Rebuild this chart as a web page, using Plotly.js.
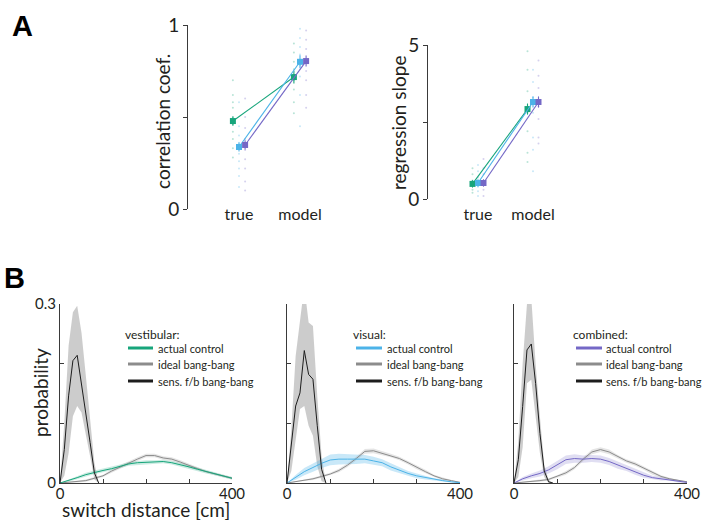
<!DOCTYPE html>
<html><head><meta charset="utf-8">
<script src="https://cdn.plot.ly/plotly-3.0.1.min.js"></script>
<style>html,body{margin:0;padding:0;background:#fff;overflow:hidden}</style>
</head><body><div id="chart" style="width:703px;height:520px"></div>
<script>
// ---------- Panel A data ----------
const groupLabels = ["true", "model"];
const groupPos = [1, 2];
const condNames = ["vestibular", "visual", "combined"];
const axisTitlesA = ["correlation coef.", "regression slope"];
// correlation coefficient (mean, sem) for true / model
const corrVestibular = [0.478, 0.717];
const corrVisual = [0.337, 0.800];
const corrCombined = [0.348, 0.804];
const corrErrVestibular = [0.025, 0.035];
const corrErrVisual = [0.025, 0.035];
const corrErrCombined = [0.025, 0.03];
// individual subjects (correlation)
const corrDotsVestTrue = [0.70, 0.62, 0.58, 0.55, 0.50, 0.46, 0.42, 0.38, 0.33, 0.28];
const corrDotsVisTrue = [0.58, 0.45, 0.40, 0.36, 0.30, 0.26, 0.22, 0.18, 0.12];
const corrDotsCombTrue = [0.60, 0.50, 0.44, 0.38, 0.32, 0.27, 0.22, 0.15, 0.10];
const corrDotsVestModel = [0.90, 0.85, 0.80, 0.76, 0.70, 0.65, 0.58, 0.52];
const corrDotsVisModel = [0.98, 0.93, 0.88, 0.84, 0.78, 0.72, 0.62, 0.45];
const corrDotsCombModel = [0.97, 0.92, 0.87, 0.80, 0.75, 0.70, 0.62, 0.55];
// regression slope
const slopeVestibular = [0.49, 2.92];
const slopeVisual = [0.52, 3.15];
const slopeCombined = [0.52, 3.15];
const slopeErrVestibular = [0.12, 0.18];
const slopeErrVisual = [0.12, 0.18];
const slopeErrCombined = [0.12, 0.18];
const slopeDotsVestTrue = [1.0, 0.8, 0.6, 0.45, 0.3, 0.2];
const slopeDotsVisTrue = [1.1, 0.9, 0.7, 0.4, 0.25, 0.1];
const slopeDotsCombTrue = [1.3, 1.0, 0.8, 0.5, 0.3, 0.1];
const slopeDotsVestModel = [4.8, 4.2, 3.5, 2.8, 2.2, 1.5, 1.2];
const slopeDotsVisModel = [4.2, 3.8, 3.3, 2.8, 2.0, 1.6, 0.9];
const slopeDotsCombModel = [4.5, 4.0, 3.6, 3.0, 2.6, 2.0, 1.8];

// ---------- Panel B data ----------
const dist = [0,20,40,60,80,100,120,140,160,180,200,220,240,260,280,300,320,340,360,380,400];
const distSens = [0,10,20,30,40,50,60,70,80,90];

const vestActual = [0,0.004,0.009,0.014,0.018,0.021,0.024,0.028,0.032,0.034,0.035,0.035,0.036,0.034,0.031,0.027,0.023,0.019,0.015,0.012,0.008];
const vestActualSem = [0,0.002,0.003,0.003,0.003,0.003,0.003,0.003,0.003,0.003,0.003,0.003,0.003,0.003,0.003,0.003,0.003,0.003,0.002,0.002,0.002];
const vestIdeal = [0,0.001,0.002,0.004,0.008,0.012,0.020,0.027,0.034,0.040,0.046,0.046,0.042,0.040,0.035,0.029,0.024,0.019,0.015,0.011,0.008];
const vestIdealSem = [0,0.001,0.001,0.002,0.002,0.002,0.003,0.003,0.003,0.003,0.003,0.003,0.003,0.003,0.003,0.003,0.003,0.002,0.002,0.002,0.002];
const vestSens = [0,0.056,0.146,0.205,0.214,0.168,0.118,0.068,0.017,0];
const vestSensUpper = [0,0.10,0.23,0.286,0.297,0.252,0.18,0.10,0.034,0];
const vestSensLower = [0,0.012,0.05,0.112,0.129,0.118,0.079,0.045,0.006,0];

const visActual = [0,0.0095,0.019,0.026,0.033,0.0386,0.040,0.040,0.040,0.040,0.037,0.034,0.027,0.021,0.016,0.012,0.009,0.006,0.004,0.002,0.0005];
const visActualSem = [0,0.004,0.006,0.007,0.008,0.009,0.009,0.008,0.008,0.007,0.007,0.006,0.006,0.005,0.004,0.004,0.003,0.002,0.002,0.001,0.001];
const visIdeal = [0,0.002,0.004,0.007,0.011,0.015,0.021,0.030,0.041,0.053,0.054,0.050,0.046,0.041,0.034,0.026,0.019,0.012,0.007,0.004,0.001];
const visIdealSem = [0,0.001,0.001,0.002,0.002,0.002,0.003,0.003,0.003,0.004,0.004,0.004,0.003,0.003,0.003,0.003,0.003,0.002,0.002,0.001,0.001];
const visSens = [0,0.062,0.129,0.151,0.222,0.182,0.174,0.096,0.023,0];
const visSensUpper = [0,0.09,0.213,0.263,0.33,0.269,0.263,0.146,0.045,0];
const visSensLower = [0,0.02,0.068,0.124,0.129,0.096,0.079,0.028,0.003,0];

const combActual = [0,0.007,0.012,0.016,0.022,0.030,0.039,0.041,0.040,0.041,0.040,0.036,0.030,0.025,0.019,0.013,0.009,0.007,0.006,0.003,0.001];
const combActualSem = [0,0.003,0.004,0.005,0.006,0.007,0.007,0.007,0.006,0.006,0.006,0.006,0.006,0.005,0.005,0.004,0.003,0.003,0.002,0.002,0.001];
const combIdeal = [0,0.001,0.002,0.004,0.006,0.011,0.017,0.026,0.040,0.052,0.056,0.052,0.044,0.037,0.032,0.025,0.017,0.011,0.007,0.004,0.002];
const combIdealSem = [0,0.001,0.001,0.002,0.002,0.002,0.003,0.003,0.003,0.004,0.004,0.004,0.003,0.003,0.003,0.003,0.003,0.002,0.002,0.001,0.001];
const combSens = [0,0.039,0.128,0.223,0.233,0.167,0.083,0.02,0.002,0];
const combSensUpper = [0,0.07,0.20,0.30,0.31,0.20,0.11,0.03,0.005,0];
const combSensLower = [0,0.01,0.06,0.167,0.173,0.111,0.05,0.01,0,0];

const legendTitles = ["vestibular:", "visual:", "combined:"];
const legendNames = ["actual control", "ideal bang-bang", "sens. f/b bang-bang"];
const xTitleB = "switch distance [cm]";
const yTitleB = "probability";

// ---------- styles ----------
const FONT = "Lato, Open Sans, sans-serif";
const TXT = "#231f20";
const colGreen = "#17a57b", colBlue = "#4cb3e8", colPurple = "#7468c6";
const colIdeal = "#8c8c8c", colSens = "#1d1d1d";
const condColors = [colGreen, colBlue, colPurple];
const condFill = ["rgba(23,165,123,0.22)", "rgba(76,179,232,0.3)", "rgba(116,104,198,0.22)"];
const offsets = [-0.1, 0, 0.1];

const traces = [];

// ---------- Panel A ----------
function addPanelA(means, errs, dotsTrue, dotsModel, xa, ya) {
  for (let c = 0; c < 3; c++) {
    const xs = groupPos.map(p => p + offsets[c]);
    const dx = [], dy = [];
    dotsTrue[c].forEach(v => { dx.push(xs[0]); dy.push(v); });
    dotsModel[c].forEach(v => { dx.push(xs[1]); dy.push(v); });
    traces.push({x: dx, y: dy, mode: "markers", type: "scatter", xaxis: xa, yaxis: ya,
      marker: {size: 2, color: condColors[c], opacity: 0.3}, showlegend: false, hoverinfo: "skip"});
  }
  for (let c = 0; c < 3; c++) {
    const xs = groupPos.map(p => p + offsets[c]);
    traces.push({x: xs, y: means[c], mode: "lines+markers", type: "scatter", xaxis: xa, yaxis: ya,
      line: {color: condColors[c], width: 1.1},
      marker: {symbol: "square", size: 6, color: condColors[c]},
      error_y: {type: "data", array: errs[c], color: condColors[c], thickness: 1.1, width: 0},
      name: condNames[c], showlegend: false});
  }
}
addPanelA([corrVestibular, corrVisual, corrCombined], [corrErrVestibular, corrErrVisual, corrErrCombined],
  [corrDotsVestTrue, corrDotsVisTrue, corrDotsCombTrue], [corrDotsVestModel, corrDotsVisModel, corrDotsCombModel], "x", "y");
addPanelA([slopeVestibular, slopeVisual, slopeCombined], [slopeErrVestibular, slopeErrVisual, slopeErrCombined],
  [slopeDotsVestTrue, slopeDotsVisTrue, slopeDotsCombTrue], [slopeDotsVestModel, slopeDotsVisModel, slopeDotsCombModel], "x2", "y2");

// ---------- Panel B ----------
function band(x, lo, hi, fill, xa, ya) {
  return {x: x.concat(x.slice().reverse()), y: hi.concat(lo.slice().reverse()),
    type: "scatter", mode: "lines", fill: "toself", fillcolor: fill, line: {width: 0},
    xaxis: xa, yaxis: ya, showlegend: false, hoverinfo: "skip"};
}
const panelsB = [
  {act: vestActual, actS: vestActualSem, ide: vestIdeal, ideS: vestIdealSem, sens: vestSens, sU: vestSensUpper, sL: vestSensLower},
  {act: visActual, actS: visActualSem, ide: visIdeal, ideS: visIdealSem, sens: visSens, sU: visSensUpper, sL: visSensLower},
  {act: combActual, actS: combActualSem, ide: combIdeal, ideS: combIdealSem, sens: combSens, sU: combSensUpper, sL: combSensLower}
];
panelsB.forEach((p, i) => {
  const xa = "x" + (i + 3), ya = "y" + (i + 3);
  traces.push(band(distSens, p.sL, p.sU, "rgba(185,185,185,0.72)", xa, ya));
  traces.push(band(dist, p.ide.map((v, k) => Math.max(0, v - p.ideS[k])), p.ide.map((v, k) => v + p.ideS[k]), "rgba(160,160,160,0.28)", xa, ya));
  traces.push(band(dist, p.act.map((v, k) => Math.max(0, v - p.actS[k])), p.act.map((v, k) => v + p.actS[k]), condFill[i], xa, ya));
  traces.push({x: dist, y: p.ide, type: "scatter", mode: "lines", line: {color: colIdeal, width: 1}, xaxis: xa, yaxis: ya, showlegend: false});
  traces.push({x: dist, y: p.act, type: "scatter", mode: "lines", line: {color: condColors[i], width: 1}, xaxis: xa, yaxis: ya, showlegend: false});
  traces.push({x: distSens, y: p.sens, type: "scatter", mode: "lines", line: {color: colSens, width: 1}, xaxis: xa, yaxis: ya, showlegend: false});
});

// ---------- layout ----------
const W = 703, H = 520;
const px = v => v / W, py = v => 1 - v / H;
const axLine = "#3a3a3a";
function bx(d0, d1) {
  return {domain: [px(d0), px(d1)], range: [0, 400], showgrid: false, zeroline: false, automargin: false,
    showline: true, linecolor: axLine, linewidth: 1, ticks: "inside", ticklen: 4, tickcolor: axLine,
    tickvals: [0, 100, 200, 300, 400], ticktext: ["0", "", "", "", "400"], ticklabelstandoff: -3,
    tickfont: {family: FONT, size: 15, color: TXT}, fixedrange: true};
}
function by(anchor, showLabels) {
  return {domain: [py(483), py(304)], range: [0, 0.3], showgrid: false, zeroline: false, anchor: anchor, automargin: false,
    showline: true, linecolor: axLine, linewidth: 1, ticks: "inside", ticklen: 4, tickcolor: axLine,
    tickvals: [0, 0.1, 0.2, 0.3], ticktext: ["0", "", "", "0.3"], showticklabels: showLabels,
    tickfont: {family: FONT, size: 15, color: TXT}};
}

// legend drawn with shapes + annotations (per panel, pixel anchors)
const legendAnchors = [{t: 123, l0: 128, l1: 153, tx: 156}, {t: 351, l0: 356, l1: 382, tx: 385}, {t: 571, l0: 576, l1: 602, tx: 604}];
const legendRows = [334, 348, 364, 381];
const shapes = [], annotations = [];
legendAnchors.forEach((a, i) => {
  annotations.push({text: legendTitles[i], x: px(a.t), y: py(legendRows[0]), xref: "paper", yref: "paper",
    xanchor: "left", yanchor: "middle", showarrow: false, font: {family: FONT, size: 12, color: TXT}});
  [condColors[i], colIdeal, colSens].forEach((c, k) => {
    const yy = py(legendRows[k + 1]);
    shapes.push({type: "line", xref: "paper", yref: "paper", x0: px(a.l0), x1: px(a.l1), y0: yy, y1: yy,
      line: {color: c, width: 3}});
    annotations.push({text: legendNames[k], x: px(a.tx), y: yy, xref: "paper", yref: "paper",
      xanchor: "left", yanchor: "middle", showarrow: false, font: {family: FONT, size: 11, color: TXT}});
  });
});
// axis titles placed by pixel anchors
const yTitles = [{text: axisTitlesA[0], x: 162, y: 122}, {text: axisTitlesA[1], x: 398, y: 123}, {text: yTitleB, x: 40, y: 393}];
yTitles.forEach(t => annotations.push({text: t.text, x: px(t.x), y: py(t.y), xref: "paper", yref: "paper",
  xanchor: "center", yanchor: "middle", textangle: -90, showarrow: false, font: {family: FONT, size: 19, color: TXT}}));
annotations.push({text: xTitleB, x: px(146), y: py(509), xref: "paper", yref: "paper", xanchor: "center", yanchor: "middle",
  showarrow: false, font: {family: FONT, size: 19, color: TXT}});
annotations.push({text: "<b>A</b>", x: px(10), y: py(8), xref: "paper", yref: "paper", xanchor: "left", yanchor: "top",
  showarrow: false, font: {family: "Liberation Sans, Arial, sans-serif", size: 29, color: "#000"}});
annotations.push({text: "<b>B</b>", x: px(2), y: py(260), xref: "paper", yref: "paper", xanchor: "left", yanchor: "top",
  showarrow: false, font: {family: "Liberation Sans, Arial, sans-serif", size: 29, color: "#000"}});

const layout = {
  width: W, height: H, margin: {l: 0, r: 0, t: 0, b: 0, pad: 0}, autosize: false,
  paper_bgcolor: "#fff", plot_bgcolor: "rgba(0,0,0,0)",
  font: {family: FONT, color: TXT}, showlegend: false,
  hovermode: false,
  xaxis: {domain: [px(188), px(335)], range: [1 - 51 / 61, 1 + (335 - 239) / 61], anchor: "free", position: py(203),
    automargin: false, showgrid: false, zeroline: false, showline: false, ticks: "",
    tickvals: groupPos, ticktext: groupLabels, tickfont: {family: FONT, size: 16, color: TXT}},
  yaxis: {domain: [py(209), py(25)], range: [0, 1], anchor: "x", showgrid: false, zeroline: false, automargin: false,
    showline: true, linecolor: axLine, linewidth: 1, ticks: "outside", ticklen: 4, tickcolor: axLine,
    tickvals: [0, 0.5, 1], ticktext: ["0", "", "1"], tickfont: {family: FONT, size: 19, color: TXT}},
  xaxis2: {domain: [px(428), px(565)], range: [1 - 50 / 55, 1 + (565 - 478) / 55], anchor: "free", position: py(203),
    automargin: false, showgrid: false, zeroline: false, showline: false, ticks: "",
    tickvals: groupPos, ticktext: groupLabels, tickfont: {family: FONT, size: 16, color: TXT}},
  yaxis2: {domain: [py(199), py(45)], range: [0, 5], anchor: "x2", showgrid: false, zeroline: false, automargin: false,
    showline: true, linecolor: axLine, linewidth: 1, ticks: "outside", ticklen: 4, tickcolor: axLine,
    tickvals: [0, 2.5, 5], ticktext: ["0", "", "5"], tickfont: {family: FONT, size: 19, color: TXT}},
  xaxis3: Object.assign(bx(60, 232), {anchor: "y3"}),
  yaxis3: by("x3", true),
  xaxis4: Object.assign(bx(287, 460), {anchor: "y4"}),
  yaxis4: by("x4", false),
  xaxis5: Object.assign(bx(514, 687), {anchor: "y5"}),
  yaxis5: by("x5", false),
  shapes: shapes,
  annotations: annotations
};
Plotly.newPlot("chart", traces, layout, {staticPlot: true, displayModeBar: false});
</script>
</body></html>
